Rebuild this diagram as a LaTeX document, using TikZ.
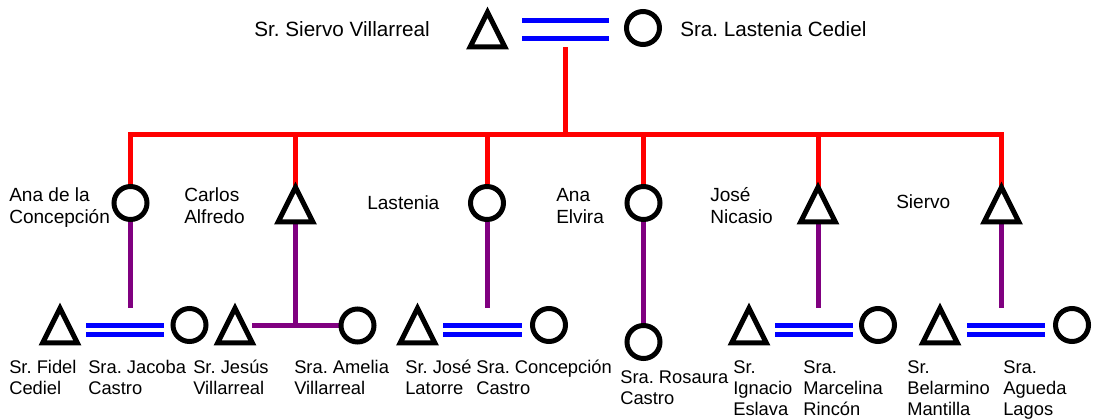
\documentclass[tikz,border=0pt]{standalone}
\usepackage{fontspec}
\setmainfont{Liberation Sans}
\frenchspacing
\pgfdeclarelayer{bg}
\pgfsetlayers{bg,main}
\definecolor{kinred}{RGB}{255,0,0}
\definecolor{kinblue}{RGB}{0,0,255}
\definecolor{kinpurple}{RGB}{128,0,128}
\newcommand\famlbl[1]{\begin{tabular}[t]{@{}l@{}}#1\end{tabular}}
\tikzset{
  woman/.style={circle, draw=black, fill=white, line width=3.75pt, minimum size=24.75pt, inner sep=0pt},
  man/.style={rectangle, inner sep=0pt, minimum width=25.5pt, minimum height=25.5pt},
  mansym/.style={draw=black, fill=white, line width=3.75pt, line join=miter},
  descentline/.style={draw=kinred, line width=3.75pt, line join=miter},
  kinline/.style={draw=kinpurple, line width=3.75pt},
  wedtop/.style={draw=kinblue, line width=3.75pt, double=white, double distance=9.375pt},
  wedbot/.style={draw=kinblue, line width=3.75pt, double=white, double distance=3pt},
  toplbl/.style={font=\fontsize{15.5}{18}\selectfont\frenchspacing, inner sep=0pt},
  midlbl/.style={font=\fontsize{14.3}{16.5}\selectfont\frenchspacing, inner sep=0pt, anchor=base west},
  botlbl/.style={font=\fontsize{13.75}{15.75}\selectfont\frenchspacing, inner sep=0pt, anchor=base west},
}
\begin{document}
\begin{tikzpicture}[x=0.75pt, y=-0.75pt]
\useasboundingbox (0,0) rectangle (1095,418);
% ---- top couple
\node[man] (siervoV) at (487.5,29.5) {};
\node[woman] (lasteniaC) at (643,28) {};
\coordinate (tmL) at (522,29.25);
\coordinate (tmR) at (609,29.25);
\coordinate (trunk) at (565.5,47);
\coordinate (bar) at (565.5,134.5);
% ---- children
\node[woman] (anaC) at (130.5,203) {};
\node[man] (carlos) at (295.5,204.5) {};
\node[woman] (lastenia) at (487,203) {};
\node[woman] (anaE) at (643.5,203) {};
\node[man] (joseN) at (818,204.5) {};
\node[man] (siervo) at (1001.5,204.5) {};
% ---- next generation
\node[man] (fidel) at (60,325.5) {};
\node[woman] (jacoba) at (189.5,325) {};
\node[man] (jesus) at (235,325.5) {};
\node[woman] (amelia) at (357.5,325.5) {};
\node[man] (joseL) at (417.5,325.5) {};
\node[woman] (concepcion) at (549,325) {};
\node[woman] (rosaura) at (643.5,342) {};
\node[man] (ignacio) at (749,325.5) {};
\node[woman] (marcelina) at (878,325) {};
\node[man] (belarmino) at (940,325.5) {};
\node[woman] (agueda) at (1072,325) {};
% marriage line ends and drop ends
\coordinate (m1L) at (86,329.5);  \coordinate (m1R) at (164,329.5);
\coordinate (m3L) at (443,329.5); \coordinate (m3R) at (522,329.5);
\coordinate (m5L) at (775,329.5); \coordinate (m5R) at (853,329.5);
\coordinate (m6L) at (967,329.5); \coordinate (m6R) at (1045,329.5);
\coordinate (d1) at (130.5,308);
\coordinate (d3) at (487,308);
\coordinate (d5) at (818,308);
\coordinate (d6) at (1001.5,308);
% ---- connectors
\begin{pgfonlayer}{bg}
\draw[descentline] (trunk) -- (bar);
\draw[descentline] (anaC) -- (anaC |- bar) -- (siervo |- bar) -- (siervo);
\draw[descentline] (carlos) -- (carlos |- bar);
\draw[descentline] (lastenia) -- (lastenia |- bar);
\draw[descentline] (anaE) -- (anaE |- bar);
\draw[descentline] (joseN) -- (joseN |- bar);
\draw[kinline] (anaC) -- (d1);
\draw[kinline] (carlos) -- (carlos |- jesus);
\draw[kinline] (jesus) -- (amelia);
\draw[kinline] (lastenia) -- (d3);
\draw[kinline] (anaE) -- (rosaura);
\draw[kinline] (joseN) -- (d5);
\draw[kinline] (siervo) -- (d6);
\end{pgfonlayer}
\draw[wedtop] (tmL) -- (tmR);
\draw[wedbot] (m1L) -- (m1R);
\draw[wedbot] (m3L) -- (m3R);
\draw[wedbot] (m5L) -- (m5R);
\draw[wedbot] (m6L) -- (m6R);
% ---- male symbols
\foreach \n in {siervoV,carlos,joseN,siervo,fidel,jesus,joseL,ignacio,belarmino}
  \draw[mansym] (\n.north) -- (\n.south east) -- (\n.south west) -- cycle;
% ---- labels
\node[toplbl, anchor=base east] (lSV) at (430,36) {Sr. Siervo Villarreal};
\node[toplbl, anchor=base west] (lLC) at (680,36) {Sra. Lastenia Cediel};
\node[midlbl] (lAC) at (9,201) {\famlbl{Ana de la\\Concepción}};
\node[midlbl] (lCA) at (184,201) {\famlbl{Carlos\\Alfredo}};
\node[midlbl] (lLa) at (367,209) {Lastenia};
\node[midlbl] (lAE) at (556,201) {\famlbl{Ana\\Elvira}};
\node[midlbl] (lJN) at (710,201) {\famlbl{José\\Nicasio}};
\node[midlbl] (lSi) at (896,208) {Siervo};
\node[botlbl] (lFi) at (9,373) {\famlbl{Sr. Fidel\\Cediel}};
\node[botlbl] (lJa) at (88,373) {\famlbl{Sra. Jacoba\\Castro}};
\node[botlbl] (lJe) at (193,373) {\famlbl{Sr. Jesús\\Villarreal}};
\node[botlbl] (lAm) at (294,373) {\famlbl{Sra. Amelia\\Villarreal}};
\node[botlbl] (lJL) at (405,373) {\famlbl{Sr. José\\Latorre}};
\node[botlbl] (lCo) at (476,373) {\famlbl{Sra. Concepción\\Castro}};
\node[botlbl] (lRo) at (620,383) {\famlbl{Sra. Rosaura\\Castro}};
\node[botlbl] (lIg) at (733,373) {\famlbl{Sr.\\Ignacio\\Eslava}};
\node[botlbl] (lMa) at (803,373) {\famlbl{Sra.\\Marcelina\\Rincón}};
\node[botlbl] (lBe) at (907,373) {\famlbl{Sr.\\Belarmino\\Mantilla}};
\node[botlbl] (lAg) at (1003,373) {\famlbl{Sra.\\Agueda\\Lagos}};
\end{tikzpicture}
\end{document}
